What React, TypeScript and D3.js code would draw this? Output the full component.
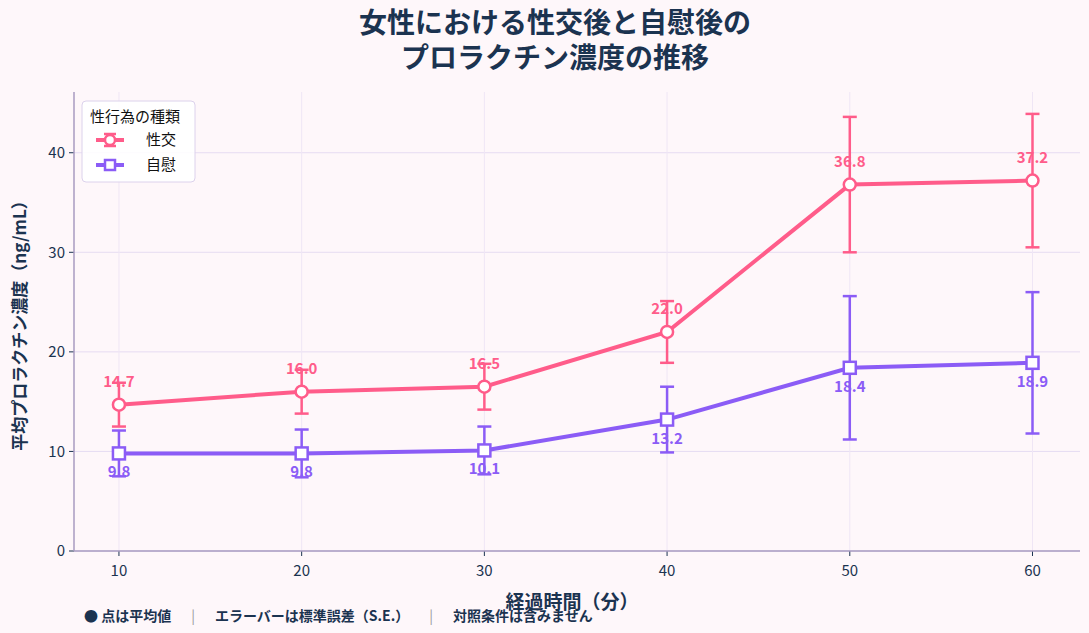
import * as React from 'react';
import * as d3 from 'd3';

const minutes = [10, 20, 30, 40, 50, 60];
const sexMean = [14.7, 16.0, 16.5, 22.0, 36.8, 37.2];
const sexErr = [2.2, 2.2, 2.3, 3.1, 6.8, 6.7];
const mastMean = [9.8, 9.8, 10.1, 13.2, 18.4, 18.9];
const mastErr = [2.3, 2.4, 2.4, 3.3, 7.2, 7.1];
const yTicks = [0, 10, 20, 30, 40];

const W = 1089, H = 633;
const margin = { left: 74, right: 9, top: 92, bottom: 82 };
const PINK = '#ff5c8a', PURPLE = '#8b5cf6', NAVY = '#1b3350';
const FONT = '"Noto Sans CJK JP", "Noto Sans", sans-serif';

export default function App() {
    const x = d3.scaleLinear().domain([7.54, 62.6]).range([margin.left, W - margin.right]);
    const y = d3.scaleLinear().domain([0, 46.1]).range([H - margin.bottom, margin.top]);
    const line = d3.line<number>().x((d, i) => x(minutes[i])).y(d => y(d));

    const series = [
        { name: '性交', mean: sexMean, err: sexErr, color: PINK, marker: 'circle', dy: -18 },
        { name: '自慰', mean: mastMean, err: mastErr, color: PURPLE, marker: 'square', dy: 24 },
    ];

    const marker = (kind: string, cx: number, cy: number, color: string, r = 6) =>
        kind === 'circle'
            ? <circle cx={cx} cy={cy} r={r} fill="white" stroke={color} strokeWidth={2.5} />
            : <rect x={cx - r} y={cy - r} width={2 * r} height={2 * r} fill="white" stroke={color} strokeWidth={2.5} />;

    return (
        <svg width={W} height={H} style={{ position: 'absolute', left: 0, top: 0, fontFamily: FONT }}>
            <rect width={W} height={H} fill="#fef7fa" />
            <text x={555} y={33} textAnchor="middle" fontSize={28} fontWeight="bold" fill={NAVY}>女性における性交後と自慰後の</text>
            <text x={555} y={68} textAnchor="middle" fontSize={28} fontWeight="bold" fill={NAVY}>プロラクチン濃度の推移</text>

            {yTicks.map(t => (
                <g key={t}>
                    <line x1={margin.left} x2={W - margin.right} y1={y(t)} y2={y(t)} stroke="#e6dcf2" strokeWidth={1} />
                    <line x1={margin.left - 5} x2={margin.left} y1={y(t)} y2={y(t)} stroke={NAVY} />
                    <text x={margin.left - 9} y={y(t)} dy="0.35em" textAnchor="end" fontSize={15} fill={NAVY}>{t}</text>
                </g>
            ))}
            {minutes.map(m => (
                <g key={m}>
                    <line x1={x(m)} x2={x(m)} y1={margin.top} y2={H - margin.bottom} stroke="#efe6f5" strokeWidth={1} />
                    <line x1={x(m)} x2={x(m)} y1={H - margin.bottom} y2={H - margin.bottom + 5} stroke={NAVY} />
                    <text x={x(m)} y={H - margin.bottom + 25} textAnchor="middle" fontSize={15} fill={NAVY}>{m}</text>
                </g>
            ))}
            <line x1={margin.left} x2={margin.left} y1={margin.top} y2={H - margin.bottom} stroke="#a99bc0" strokeWidth={1.5} />
            <line x1={margin.left} x2={W - margin.right} y1={H - margin.bottom} y2={H - margin.bottom} stroke="#a99bc0" strokeWidth={1.5} />

            {series.map(s => (
                <g key={s.name}>
                    {s.mean.map((v, i) => (
                        <g key={i} stroke={s.color} strokeWidth={2.5}>
                            <line x1={x(minutes[i])} x2={x(minutes[i])} y1={y(v - s.err[i])} y2={y(v + s.err[i])} />
                            <line x1={x(minutes[i]) - 7} x2={x(minutes[i]) + 7} y1={y(v - s.err[i])} y2={y(v - s.err[i])} />
                            <line x1={x(minutes[i]) - 7} x2={x(minutes[i]) + 7} y1={y(v + s.err[i])} y2={y(v + s.err[i])} />
                        </g>
                    ))}
                    <path d={line(s.mean) || ''} fill="none" stroke={s.color} strokeWidth={4} />
                    {s.mean.map((v, i) => <g key={i}>{marker(s.marker, x(minutes[i]), y(v), s.color)}</g>)}
                    {s.mean.map((v, i) => (
                        <text key={'t' + i} x={x(minutes[i])} y={y(v) + s.dy} textAnchor="middle" fontSize={15}
                            fontWeight="bold" fill={s.color}>{v.toFixed(1)}</text>
                    ))}
                </g>
            ))}

            <text transform={`translate(26,${(margin.top + H - margin.bottom) / 2}) rotate(-90)`} textAnchor="middle"
                fontSize={17} fontWeight="bold" fill={NAVY}>平均プロラクチン濃度（ng/mL）</text>
            <text x={572} y={609} textAnchor="middle" fontSize={19} fontWeight="bold" fill={NAVY}>経過時間（分）</text>
            <text x={84} y={621} fontSize={14} fontWeight="bold" fill={NAVY}>
                ● 点は平均値<tspan fill="#999" fontWeight="normal" dx={20}>|</tspan><tspan dx={20}>エラーバーは標準誤差（S.E.）</tspan>
                <tspan fill="#999" fontWeight="normal" dx={20}>|</tspan><tspan dx={20}>対照条件は含みません</tspan>
            </text>

            <g transform="translate(82,101)">
                <rect width={113} height={81} rx={4} fill="white" fillOpacity={0.9} stroke="#dcd2ec" />
                <text x={8} y={21} fontSize={15} fill="#111">性行為の種類</text>
                {series.map((s, i) => (
                    <g key={s.name} transform={`translate(0,${39 + i * 25})`}>
                        <line x1={14} x2={42} y1={0} y2={0} stroke={s.color} strokeWidth={4} />
                        {s.marker === 'circle' && <line x1={22} x2={34} y1={-6} y2={-6} stroke={s.color} strokeWidth={2.5} />}
                        {s.marker === 'circle' && <line x1={22} x2={34} y1={6} y2={6} stroke={s.color} strokeWidth={2.5} />}
                        {marker(s.marker, 28, 0, s.color, 5)}
                        <text x={64} y={0} dy="0.35em" fontSize={15} fill="#111">{s.name}</text>
                    </g>
                ))}
            </g>
        </svg>
    );
}
